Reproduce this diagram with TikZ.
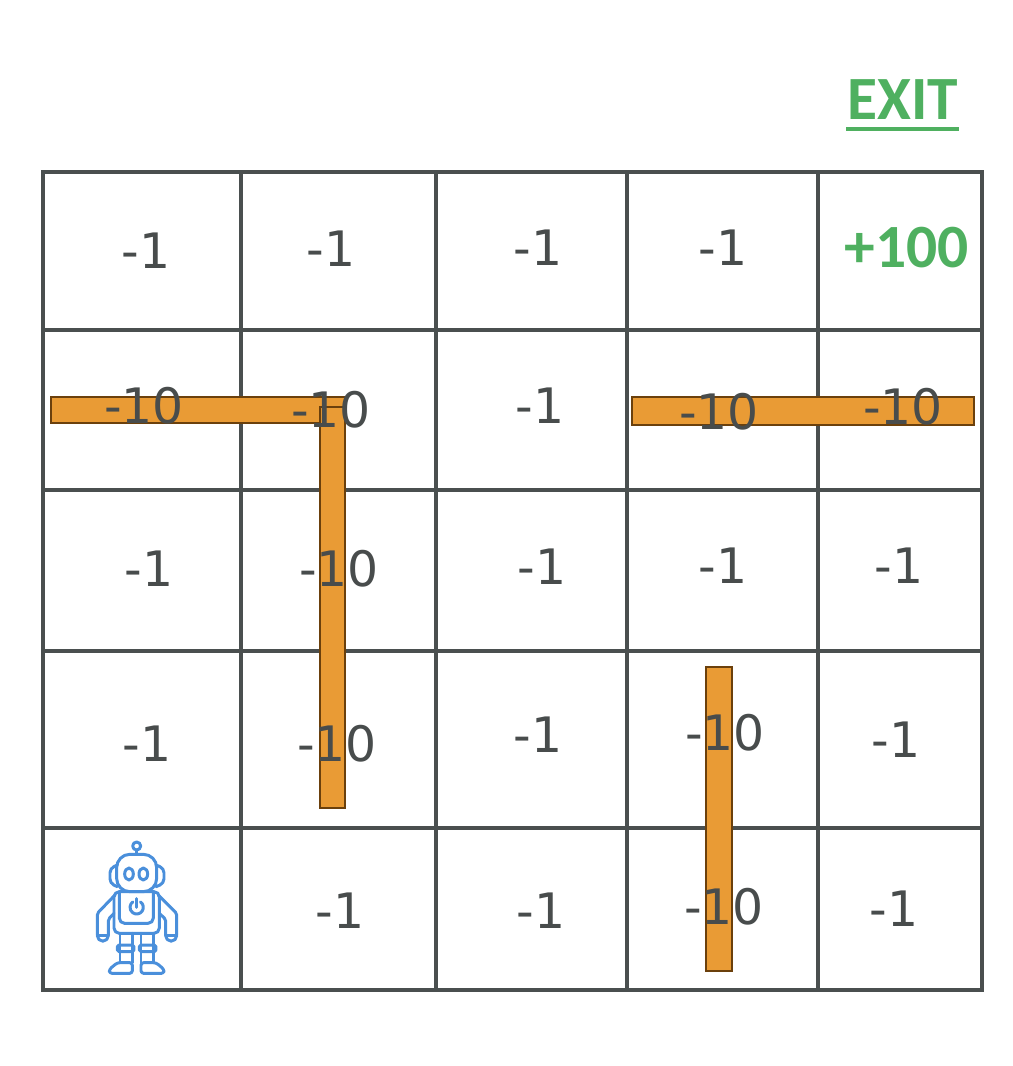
\documentclass[tikz,border=0pt]{standalone}
\usepackage{fontspec}
\setmainfont{DejaVu Sans}
\newfontfamily\exitfont{Carlito}
\definecolor{gridgray}{HTML}{4A4F4F}
\definecolor{textgray}{HTML}{484C4C}
\definecolor{wallorange}{HTML}{E99B35}
\definecolor{walledge}{HTML}{6B400C}
\definecolor{exitgreen}{HTML}{4FB060}
\definecolor{robotblue}{HTML}{4A8FDB}
\begin{document}
\begin{tikzpicture}[
      x=0.02cm, y=-0.02cm,
      gridline/.style={draw=gridgray, line width=2.7pt},
      wall/.style={draw=walledge, fill=wallorange, line width=1.6pt},
      reward/.style={inner sep=0, text=textgray, font=\fontsize{27.8}{30}\selectfont},
      goal/.style={inner sep=0, text=exitgreen, font=\exitfont\bfseries\fontsize{35}{36}\selectfont},
      robotline/.style={draw=robotblue, line width=1.7pt, line join=round, line cap=round}
    ]
    \useasboundingbox (0,0) rectangle (1012,1066);
    \draw[gridline] (43,172) rectangle (982,990);
    \draw[gridline] (241,172) -- (241,990);
    \draw[gridline] (436,172) -- (436,990);
    \draw[gridline] (627,172) -- (627,990);
    \draw[gridline] (818,172) -- (818,990);
    \draw[gridline] (43,330) -- (982,330);
    \draw[gridline] (43,490) -- (982,490);
    \draw[gridline] (43,651) -- (982,651);
    \draw[gridline] (43,828) -- (982,828);

    \draw[wall] (51,397) rectangle (345,423);
    \draw[wall] (320,407) rectangle (345,808);
    \draw[wall] (632,397) rectangle (974,425);
    \draw[wall] (706,667) rectangle (732,971);

    \node[goal] (exit) at (903,100) {EXIT};
    \draw[draw=exitgreen, line width=2.2pt] (846,129) -- (959,129);

    \node[reward] (r11) at (146,251) {-1};
    \node[reward] (r12) at (331,249) {-1};
    \node[reward] (r13) at (538,248) {-1};
    \node[reward] (r14) at (723,248) {-1};
    \node[goal] (r15) at (907,248) {+100};
    \node[reward] (r21) at (144,406) {-10};
    \node[reward] (r22) at (331,410) {-10};
    \node[reward] (r23) at (540,406) {-1};
    \node[reward] (r24) at (719,412) {-10};
    \node[reward] (r25) at (903,407) {-10};
    \node[reward] (r31) at (149,569) {-1};
    \node[reward] (r32) at (339,569) {-10};
    \node[reward] (r33) at (542,567) {-1};
    \node[reward] (r34) at (723,566) {-1};
    \node[reward] (r35) at (899,566) {-1};
    \node[reward] (r41) at (147,744) {-1};
    \node[reward] (r42) at (337,744) {-10};
    \node[reward] (r43) at (538,735) {-1};
    \node[reward] (r44) at (725,733) {-10};
    \node[reward] (r45) at (896,740) {-1};
    \node[reward] (r52) at (340,911) {-1};
    \node[reward] (r53) at (541,911) {-1};
    \node[reward] (r54) at (724,907) {-10};
    \node[reward] (r55) at (894,909) {-1};

    \begin{scope}[shift={(60,820)}, x=0.00667cm, y=-0.00667cm]
      \draw[robotline] (230,78) circle [radius=12];
      \draw[robotline] (230,90) -- (230,103);
      \draw[robotline, rounded corners=7.5pt] (170,103) rectangle (290,215);
      \draw[robotline, rounded corners=2.5pt] (172,135) -- (150,145) -- (150,190) -- (172,200);
      \draw[robotline, rounded corners=2.5pt] (288,135) -- (312,145) -- (312,190) -- (288,200);
      \draw[robotline] (207,162) ellipse [x radius=13, y radius=18];
      \draw[robotline] (250,162) ellipse [x radius=13, y radius=18];
      \draw[robotline, rounded corners=3pt] (162,215) -- (162,340) -- (298,340) -- (298,215) -- cycle;
      \draw[robotline, rounded corners=3pt] (178,215) -- (178,310) -- (280,310) -- (280,215);
      \draw[robotline] (241.5,245.6) arc [start angle=-55, delta angle=290, radius=20];
      \draw[robotline] (230,236) -- (230,262);
      \draw[robotline, rounded corners=1pt] (165,225) -- (112,280) -- (112,345);
      \draw[robotline, rounded corners=1pt] (145,345) -- (145,298) -- (162,280);
      \draw[robotline, rounded corners=1pt] (295,225) -- (350,280) -- (350,345);
      \draw[robotline, rounded corners=1pt] (317,345) -- (317,298) -- (298,280);
      \draw[robotline] (112,345) -- (145,345);
      \draw[robotline] (317,345) -- (350,345);
      \draw[robotline] (112,347) arc [start angle=180, delta angle=-180, radius=16.5];
      \draw[robotline] (317,347) arc [start angle=180, delta angle=-180, radius=16.5];
      \draw[robotline] (180,340) -- (180,428);
      \draw[robotline] (217,340) -- (217,428);
      \draw[robotline] (243,340) -- (243,428);
      \draw[robotline] (280,340) -- (280,428);
      \draw[robotline, rounded corners=1pt] (172,375) rectangle (222,395);
      \draw[robotline, rounded corners=1pt] (238,375) rectangle (288,395);
      \draw[robotline, rounded corners=1.5pt] (217,428) -- (172,428) -- (148,448) -- (148,460) -- (217,460) -- cycle;
      \draw[robotline, rounded corners=1.5pt] (243,428) -- (288,428) -- (312,448) -- (312,460) -- (243,460) -- cycle;
    \end{scope}
  \end{tikzpicture}
\end{document}
